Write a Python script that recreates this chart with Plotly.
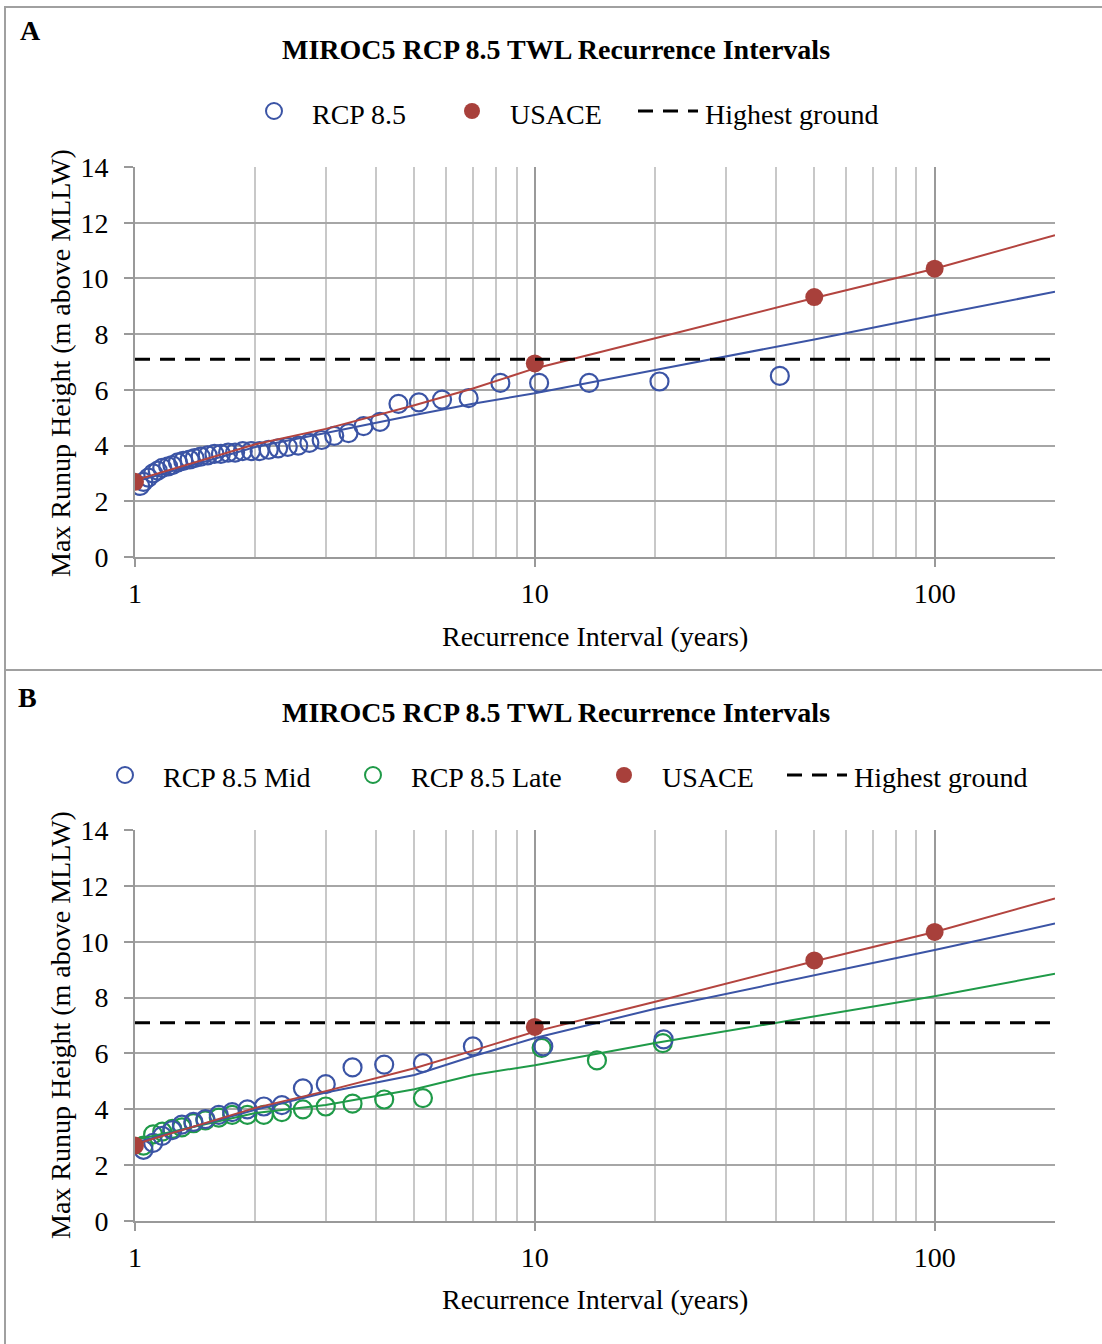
import plotly.graph_objects as go

W, H = 1102, 1344
FONT = "Liberation Serif, Times New Roman, serif"

# ---------------- data ----------------
# Panel A: RCP 8.5 empirical recurrence intervals
a_rcp_x = [41.0, 20.5, 13.67, 10.25, 8.2, 6.83, 5.86, 5.13, 4.56, 4.1,
           3.73, 3.42, 3.15, 2.93, 2.73, 2.56, 2.41, 2.28, 2.16, 2.05,
           1.95, 1.86, 1.78, 1.71, 1.64, 1.58, 1.52, 1.46, 1.41, 1.37,
           1.32, 1.28, 1.24, 1.21, 1.17, 1.14, 1.11, 1.08, 1.05, 1.03]
a_rcp_y = [6.5, 6.3, 6.25, 6.25, 6.25, 5.7, 5.65, 5.55, 5.5, 4.85,
           4.7, 4.45, 4.35, 4.2, 4.1, 4.0, 3.95, 3.9, 3.85, 3.8,
           3.8, 3.8, 3.75, 3.75, 3.7, 3.7, 3.65, 3.6, 3.55, 3.5,
           3.45, 3.4, 3.3, 3.25, 3.2, 3.1, 3.0, 2.85, 2.7, 2.55]

# fitted curves
fit_x = [1, 2, 3, 5, 7, 10, 20, 50, 100, 200]
a_rcp_fit = [2.7, 3.95, 4.45, 5.1, 5.5, 5.88, 6.71, 7.81, 8.68, 9.52]
usace_fit = [2.75, 4.05, 4.6, 5.45, 6.05, 6.77, 7.85, 9.3, 10.35, 11.55]

# USACE points
usace_x = [1, 10, 50, 100]
usace_y = [2.7, 6.95, 9.33, 10.35]

# Highest ground
ground_x = [1, 200]
ground_y = [7.1, 7.1]

# Panel B
b_mid_x = [21.0, 10.5, 7.0, 5.25, 4.2, 3.5, 3.0, 2.63, 2.33, 2.1,
           1.91, 1.75, 1.62, 1.5, 1.4, 1.31, 1.24, 1.17, 1.11, 1.05]
b_mid_y = [6.5, 6.25, 6.25, 5.65, 5.6, 5.5, 4.9, 4.75, 4.15, 4.1,
           4.0, 3.9, 3.8, 3.65, 3.55, 3.45, 3.25, 3.05, 2.8, 2.55]
b_late_x = [20.9, 14.3, 10.4, 5.25, 4.2, 3.5, 3.0, 2.63, 2.33, 2.1,
            1.91, 1.75, 1.62, 1.5, 1.4, 1.31, 1.24, 1.17, 1.11, 1.05]
b_late_y = [6.37, 5.75, 6.2, 4.4, 4.35, 4.2, 4.1, 4.0, 3.9, 3.8,
            3.8, 3.8, 3.7, 3.6, 3.5, 3.35, 3.3, 3.2, 3.1, 2.7]
b_mid_fit = [2.8, 3.98, 4.6, 5.23, 5.9, 6.55, 7.6, 8.8, 9.7, 10.65]
b_late_fit = [2.9, 3.87, 4.15, 4.72, 5.23, 5.58, 6.37, 7.33, 8.05, 8.85]
b_usace_fit = [2.75, 4.05, 4.65, 5.47, 6.1, 6.78, 7.85, 9.3, 10.35, 11.55]

y_ticks = [0, 2, 4, 6, 8, 10, 12, 14]
x_ticks = [1, 10, 100]
x_minor = [2, 3, 4, 5, 6, 7, 8, 9, 20, 30, 40, 50, 60, 70, 80, 90, 200]

# ---------------- styles ----------------
BLUE = "#3b54a5"
GREEN = "#1f9a48"
RED = "#a8403b"
RED_LINE = "#b3443f"
GRID = "#a6a6a6"
MINOR = "#c8c8c8"
TXT = 28
MSIZE = 18


def px(x):
    return x / W


def py(y):
    return 1 - y / H


fig = go.Figure()


def add_panel(xa, ya, circles, fits):
    for (xs, ys, col) in circles:
        fig.add_trace(go.Scatter(x=xs, y=ys, mode="markers", xaxis=xa, yaxis=ya,
                                 marker=dict(symbol="circle-open", size=MSIZE, color=col,
                                             line=dict(width=2.2, color=col)),
                                 showlegend=False, hoverinfo="skip"))
    for (ys, col) in fits:
        fig.add_trace(go.Scatter(x=fit_x, y=ys, mode="lines", xaxis=xa, yaxis=ya,
                                 line=dict(color=col, width=2),
                                 showlegend=False, hoverinfo="skip"))
    fig.add_trace(go.Scatter(x=usace_x, y=usace_y, mode="markers", xaxis=xa, yaxis=ya,
                             marker=dict(symbol="circle", size=MSIZE, color=RED),
                             showlegend=False, hoverinfo="skip"))
    fig.add_trace(go.Scatter(x=ground_x, y=ground_y, mode="lines", xaxis=xa, yaxis=ya,
                             line=dict(color="black", width=3, dash="15px,10px"),
                             showlegend=False, hoverinfo="skip", cliponaxis=False))


add_panel("x", "y", [(a_rcp_x, a_rcp_y, BLUE)], [(a_rcp_fit, BLUE), (usace_fit, RED_LINE)])
add_panel("x2", "y2", [(b_late_x, b_late_y, GREEN), (b_mid_x, b_mid_y, BLUE)],
          [(b_late_fit, GREEN), (b_mid_fit, BLUE), (b_usace_fit, RED_LINE)])

xdom = [px(135), px(1055)]


def xaxis_cfg(anchor):
    return dict(type="log", range=[0, 2.30103], domain=xdom, anchor=anchor, automargin=False,
                tickvals=x_ticks, ticktext=[str(v) for v in x_ticks],
                showgrid=True, gridcolor="#9a9a9a", gridwidth=2,
                minor=dict(tickvals=x_minor, showgrid=True, gridcolor=MINOR, gridwidth=2,
                           ticklen=0),
                ticks="outside", ticklen=8, tickwidth=2, tickcolor="#999999",
                showline=True, linecolor="#999999", linewidth=2,
                ticklabelstandoff=2,
                tickfont=dict(family=FONT, size=TXT, color="black"), zeroline=False)


def yaxis_cfg(anchor, dom):
    return dict(range=[0, 14], domain=dom, anchor=anchor, tickvals=y_ticks, automargin=False,
                showgrid=True, gridcolor=GRID, gridwidth=2,
                ticks="outside", ticklen=9, tickwidth=2, tickcolor="#999999",
                showline=True, linecolor="#999999", linewidth=2,
                ticklabelstandoff=10,
                tickfont=dict(family=FONT, size=TXT, color="black"), zeroline=False)


fig.update_layout(
    template="none",
    width=W, height=H, margin=dict(l=0, r=0, t=0, b=0, pad=0, autoexpand=False),
    paper_bgcolor="white", plot_bgcolor="white", showlegend=False,
    font=dict(family=FONT, color="black"),
    xaxis=xaxis_cfg("y"),
    yaxis=yaxis_cfg("x", [py(557), py(167)]),
    xaxis2=xaxis_cfg("y2"),
    yaxis2=yaxis_cfg("x2", [py(1221), py(830)]),
)

shapes = []
ann = []
# panel borders
shapes.append(dict(type="rect", xref="paper", yref="paper", x0=px(5), x1=px(1104),
                   y0=py(7), y1=py(1346), line=dict(color="#a0a0a0", width=2)))
shapes.append(dict(type="line", xref="paper", yref="paper", x0=px(5), x1=px(1104),
                   y0=py(670), y1=py(670), line=dict(color="#a0a0a0", width=2)))


def text(x, y, s, size=TXT, bold=False, xanchor="left", angle=0):
    ann.append(dict(xref="paper", yref="paper", x=px(x), y=py(y), text=(f"<b>{s}</b>" if bold else s),
                    showarrow=False, xanchor=xanchor, yanchor="middle", textangle=angle,
                    font=dict(family=FONT, size=size, color="black")))


def circ(x, y, col, filled):
    shapes.append(dict(type="circle", xref="paper", yref="paper", xsizemode="pixel", ysizemode="pixel",
                       xanchor=px(x), yanchor=py(y), x0=-8, x1=8, y0=-8, y1=8,
                       line=dict(color=col, width=2 if not filled else 0),
                       fillcolor=col if filled else "rgba(0,0,0,0)"))


def dash(x0, x1, y):
    shapes.append(dict(type="line", xref="paper", yref="paper", x0=px(x0), x1=px(x1), y0=py(y), y1=py(y),
                       line=dict(color="black", width=3, dash="15px,10px")))


# Panel A header
text(18, 30, "A", size=28, bold=True)
text(556, 49, "MIROC5 RCP 8.5 TWL Recurrence Intervals", size=TXT, bold=True, xanchor="center")
circ(274, 111, BLUE, False)
text(310, 114, "RCP 8.5")
circ(472, 111, RED, True)
text(508, 114, "USACE")
dash(638, 698, 111)
text(703, 114, "Highest ground")
text(60, 363, "Max Runup Height (m above MLLW)", angle=-90, xanchor="center")
text(595, 636, "Recurrence Interval (years)", xanchor="center")

# Panel B header
text(16, 697, "B", size=28, bold=True)
text(556, 712, "MIROC5 RCP 8.5 TWL Recurrence Intervals", size=TXT, bold=True, xanchor="center")
circ(125, 775, BLUE, False)
text(161, 777, "RCP 8.5 Mid")
circ(373, 775, GREEN, False)
text(409, 777, "RCP 8.5 Late")
circ(624, 775, RED, True)
text(660, 777, "USACE")
dash(787, 847, 775)
text(852, 777, "Highest ground")
text(60, 1025, "Max Runup Height (m above MLLW)", angle=-90, xanchor="center")
text(595, 1299, "Recurrence Interval (years)", xanchor="center")

fig.update_layout(shapes=shapes, annotations=ann)
fig.write_html("out.html", config={"displayModeBar": False},
               post_script="document.body.style.margin='0';document.body.style.overflow='hidden';")
